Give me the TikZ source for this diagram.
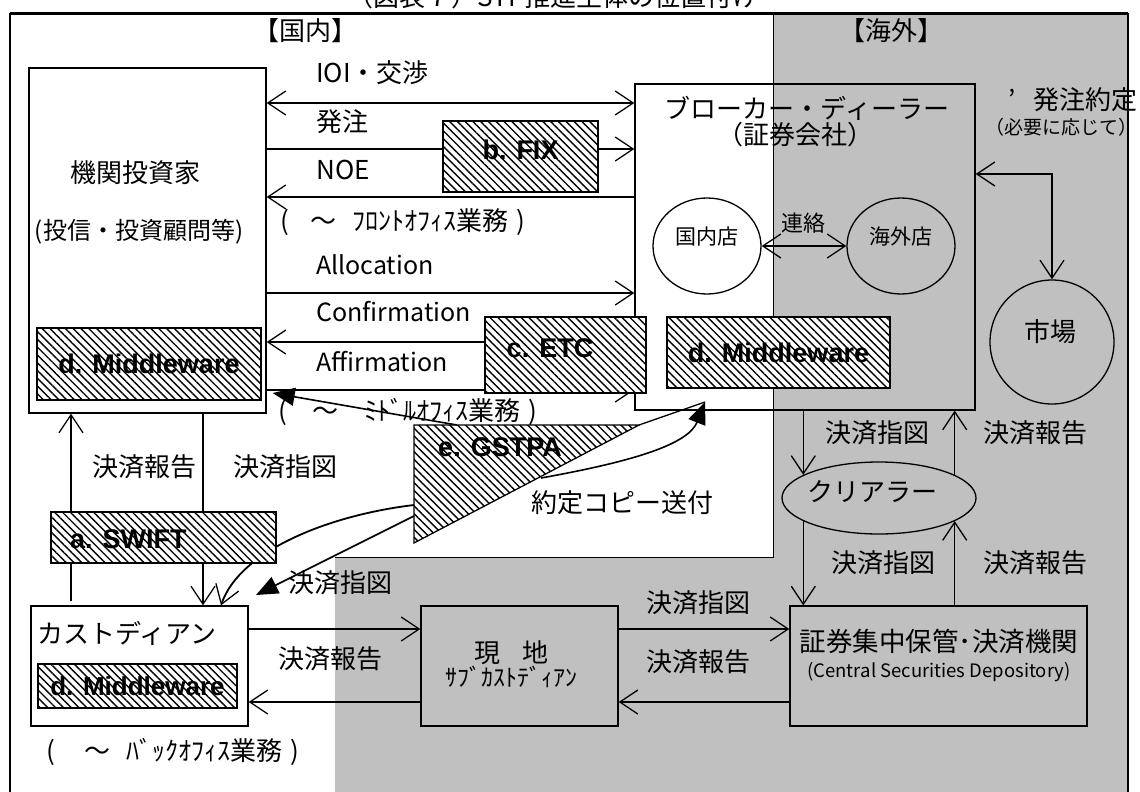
\documentclass[tikz,border=0pt]{standalone}
\usepackage{fontspec}
\setmainfont{Noto Sans CJK JP}
\newfontfamily\latinfont{Liberation Sans}
\usetikzlibrary{arrows.meta,patterns.meta,shapes.geometric,positioning,calc}

\definecolor{kaigai}{RGB}{192,192,192}

\tikzset{
  box/.style={draw, line width=1.3pt, inner sep=0pt},
  hatch/.style={draw, line width=1.3pt, fill=white,
    postaction={pattern={Lines[angle=-45,distance=5.5pt,line width=1.4pt]}},
    inner sep=0pt},
  hlbl/.style={inner sep=0pt, font=\latinfont\bfseries\fontsize{27pt}{29pt}\selectfont},
  lbl/.style={inner sep=0pt, font=\fontsize{26pt}{28pt}\selectfont},
  flow/.style={line width=1.3pt, -{Straight Barb[length=18pt,width=24pt,line width=1.3pt]}},
  flowboth/.style={line width=1.3pt, {Straight Barb[length=18pt,width=24pt,line width=1.3pt]}-{Straight Barb[length=18pt,width=24pt,line width=1.3pt]}},
  plain/.style={line width=1.3pt},
  fflow/.style={line width=1.6pt, -{Triangle[length=22pt,width=18pt]}}
}

\begin{document}
\begin{tikzpicture}[x=1pt,y=-1pt]
  \useasboundingbox (0,0) rectangle (1140,792);
  \clip (0,0) rectangle (1140,792);
  % Bereiche
  \fill[kaigai] (773,14) rectangle (1128,800);
  \fill[kaigai] (335,557) rectangle (773,800);
  \draw[line width=1pt] (773,14) -- (773,557) -- (335,557);
  \draw[line width=1.5pt] (10,14) rectangle (1128,800);
  \draw[line width=3pt] (10,14) -- (1128,14);
  \node[lbl] (title) at (553,-3) {（図表７）STP推進主体の位置付け};
  \node[lbl] (kokunai) at (305,31) {【国内】};
  \node[lbl] (kaigaiT) at (891,31) {【海外】};

  % Knoten
  \node[box, fill=white, minimum width=237pt, minimum height=345pt] (inv) at (147.5,240.5) {};
  \node[lbl] (invA) at (135,173) {機関投資家};
  \node[lbl, font=\fontsize{24pt}{26pt}\selectfont] (invB) at (139,232) {(投信・投資顧問等)};
  \node[hatch, minimum width=224pt, minimum height=72pt] (invmw) at (149,364) {};
  \node[hlbl] (invmwT) at (invmw) {d. Middleware};

  \node[box, minimum width=340pt, minimum height=326pt] (brk) at (805,247) {};
  \node[lbl] (brkA) at (807,108) {ブローカー・ディーラー};
  \node[lbl] (brkB) at (795,135) {（証券会社）};
  \node[box, ellipse, minimum width=108pt, minimum height=96pt] (dom) at (707,246) {};
  \node[box, ellipse, minimum width=108pt, minimum height=96pt] (ovs) at (901,246) {};
  \node[inner sep=0pt, font=\fontsize{21pt}{23pt}\selectfont] (domT) at (707,237) {国内店};
  \node[inner sep=0pt, font=\fontsize{21pt}{23pt}\selectfont] (ovsT) at (901,237) {海外店};
  \node[hatch, minimum width=223pt, minimum height=71pt] (brkmw) at (778.5,352.5) {};
  \node[hlbl] (brkmwT) at (brkmw) {d. Middleware};

  \node[box, circle, minimum size=124pt] (mkt) at (1052,342) {};
  \node[lbl] (mktT) at (1050,332) {市場};
  \node[box, ellipse, minimum width=194pt, minimum height=72pt] (clr) at (879,498) {};
  \node[lbl] (clrT) at (872,492) {クリアラー};

  \node[box, fill=white, minimum width=217pt, minimum height=120pt] (cus) at (139.5,666) {};
  \node[lbl, anchor=west] (cusT) at (37,633) {カストディアン};
  \node[hatch, minimum width=199pt, minimum height=44pt] (cusmw) at (137.5,686) {};
  \node[hlbl, font=\latinfont\bfseries\fontsize{26pt}{28pt}\selectfont] (cusmwT) at (cusmw) {d. Middleware};
  \node[box, fill=kaigai, minimum width=197pt, minimum height=120pt] (sub) at (519.5,666) {};
  \node[lbl] (subA) at (511,653) {現\hspace{22pt}地};
  \node[lbl, font=\fontsize{24pt}{26pt}\selectfont] (subB) at (511,677) {ｻﾌﾞｶｽﾄﾃﾞｨｱﾝ};
  \node[box, fill=kaigai, minimum width=297pt, minimum height=120pt] (csd) at (938.5,666) {};
  \node[lbl, font=\fontsize{26.5pt}{28pt}\selectfont] (csdA) at (939,641) {証券集中保管･決済機関};
  \node[inner sep=0pt, font=\fontsize{18.5pt}{20pt}\selectfont] (csdB) at (939,672) {(Central Securities Depository)};

  % Zeilen
  \coordinate (r1) at (0,103);
  \coordinate (r2) at (0,149);
  \coordinate (r3) at (0,197);
  \coordinate (r4) at (0,293);
  \coordinate (r5) at (0,342);
  \coordinate (r6) at (0,390);
  \coordinate (r7) at (0,174);
  \coordinate (r8) at (0,629);
  \coordinate (r9) at (0,702);
  \coordinate (c2) at (71,0);
  \coordinate (c3) at (203,0);

  % Kanten
  \node[lbl, anchor=west] (ioiT) at (316,73) {IOI・交渉};
  \draw[flowboth] (inv.east |- r1) -- (brk.west |- r1);
  \node[lbl, anchor=west] (hatT) at (316,122) {発注};
  \node[hatch, minimum width=155pt, minimum height=71pt] (fix) at (520.5,156.5) {};
  \node[hlbl] (fixT) at (520.5,150) {b. FIX};
  \draw[plain] (inv.east |- r2) -- (fix.west |- r2);
  \draw[flow] (fix.east |- r2) -- (brk.west |- r2);
  \node[lbl, anchor=west] (noeT) at (316,170) {NOE};
  \draw[flow] (brk.west |- r3) -- (inv.east |- r3);
  \node[lbl, anchor=west] (frontT) at (280,222) {(\hspace{22pt}～\hspace{16pt}ﾌﾛﾝﾄｵﾌｨｽ業務\hspace{8pt})};
  \node[lbl, anchor=west, font=\fontsize{25pt}{27pt}\selectfont] (allocT) at (316,265) {Allocation};
  \draw[flow] (inv.east |- r4) -- (brk.west |- r4);
  \node[lbl, anchor=west, font=\fontsize{25pt}{27pt}\selectfont] (confT) at (316,312) {Confirmation};
  \draw[flow] (brk.west |- r5) -- (inv.east |- r5);
  \node[lbl, anchor=west, font=\fontsize{25pt}{27pt}\selectfont] (affT) at (316,362) {Affirmation};
  \draw[flow] (inv.east |- r6) -- (brk.west |- r6);
  \node[hatch, minimum width=161pt, minimum height=76pt] (etc) at (565.5,355) {};
  \node[hlbl] (etcT) at (550,348) {c. ETC};
  \node[lbl, anchor=west] (middleT) at (278,412) {(\hspace{26pt}～\hspace{26pt}ﾐﾄﾞﾙｵﾌｨｽ業務\hspace{8pt})};

  \draw[flowboth] (dom.east) -- (ovs.west);
  \node[inner sep=0pt, font=\fontsize{22pt}{24pt}\selectfont] (renT) at (803,223) {連絡};
  \draw[flowboth] (mkt.north) |- (brk.east |- r7);
  \node[lbl, anchor=east] (hatyakT) at (1138,100) {'\hspace{18pt}発注約定};
  \node[inner sep=0pt, anchor=east, font=\fontsize{19pt}{21pt}\selectfont] (hitsuT) at (1138,127) {（必要に応じて）};

  \draw[flow] (brk.south -| clr.163) -- (clr.163);
  \draw[flow] (clr.17) -- (brk.south -| clr.17);
  \node[lbl] (k1) at (877,433) {決済指図};
  \node[lbl] (k2) at (1035,433) {決済報告};
  \draw[flow] (clr.197) -- (csd.north -| clr.197);
  \draw[flow] (csd.north -| clr.-17) -- (clr.-17);
  \node[lbl] (k3) at (883,563) {決済指図};
  \node[lbl] (k4) at (1035,563) {決済報告};

  \draw[flow] (cus.east |- r8) -- (sub.west |- r8);
  \draw[flow] (sub.west |- r9) -- (cus.east |- r9);
  \node[lbl] (k5) at (330,659) {決済報告};
  \draw[flow] (sub.east |- r8) -- (csd.west |- r8);
  \draw[flow] (csd.west |- r9) -- (sub.east |- r9);
  \node[lbl] (k6) at (698,603) {決済指図};
  \node[lbl] (k7) at (698,662) {決済報告};
  \node[lbl, anchor=west] (backT) at (46,752) {(\hspace{30pt}～\hspace{16pt}ﾊﾞｯｸｵﾌｨｽ業務\hspace{8pt})};

  % GSTPA
  \draw[hatch] (414,425) -- (639,425) -- (414,543) -- cycle;
  \node[hlbl] (gstpa) at (500,447) {e. GSTPA};
  \coordinate (g-top) at (457,425);
  \coordinate (g-corner) at (639,425);
  \coordinate (g-hyp) at (541,478);
  \coordinate (g-left1) at (414,505);
  \coordinate (g-left2) at (414,516);
  \coordinate (brk-tip) at (705,402);
  \coordinate (cus-tip) at (256,595);
  \node[lbl] (yakuT) at (622,503) {約定コピー送付};
  \draw[fflow] (g-top) -- ([xshift=6pt]inv.east |- 0,393);
  \draw[plain] (g-corner) -- (brk-tip);
  \draw[fflow] (g-hyp) .. controls (630,462) and (688,445) .. (brk-tip);
  \draw[flow, line width=1.8pt] (g-left1) .. controls (330,515) and (240,550) .. (cus.north -| 221,0);
  \draw[fflow] (g-left2) -- (cus-tip);
  \node[lbl] (k8) at (340,583) {決済指図};

  % SWIFT
  \node[hatch, minimum width=225pt, minimum height=51pt] (swift) at (163.5,537.5) {};
  \node[hlbl, anchor=west] (swiftT) at (70,539) {a. SWIFT};
  \draw[flow] (swift.north -| c2) -- (inv.south -| c2);
  \draw[plain] (inv.south -| c3) -- (swift.north -| c3);
  \draw[plain] (swift.south -| c2) -- ([yshift=4pt]cus.north -| c2);
  \draw[flow] (swift.south -| c3) -- (cus.north -| c3);
  \node[lbl] (k9) at (144,467) {決済報告};
  \node[lbl] (k10) at (285,467) {決済指図};
\end{tikzpicture}
\end{document}
